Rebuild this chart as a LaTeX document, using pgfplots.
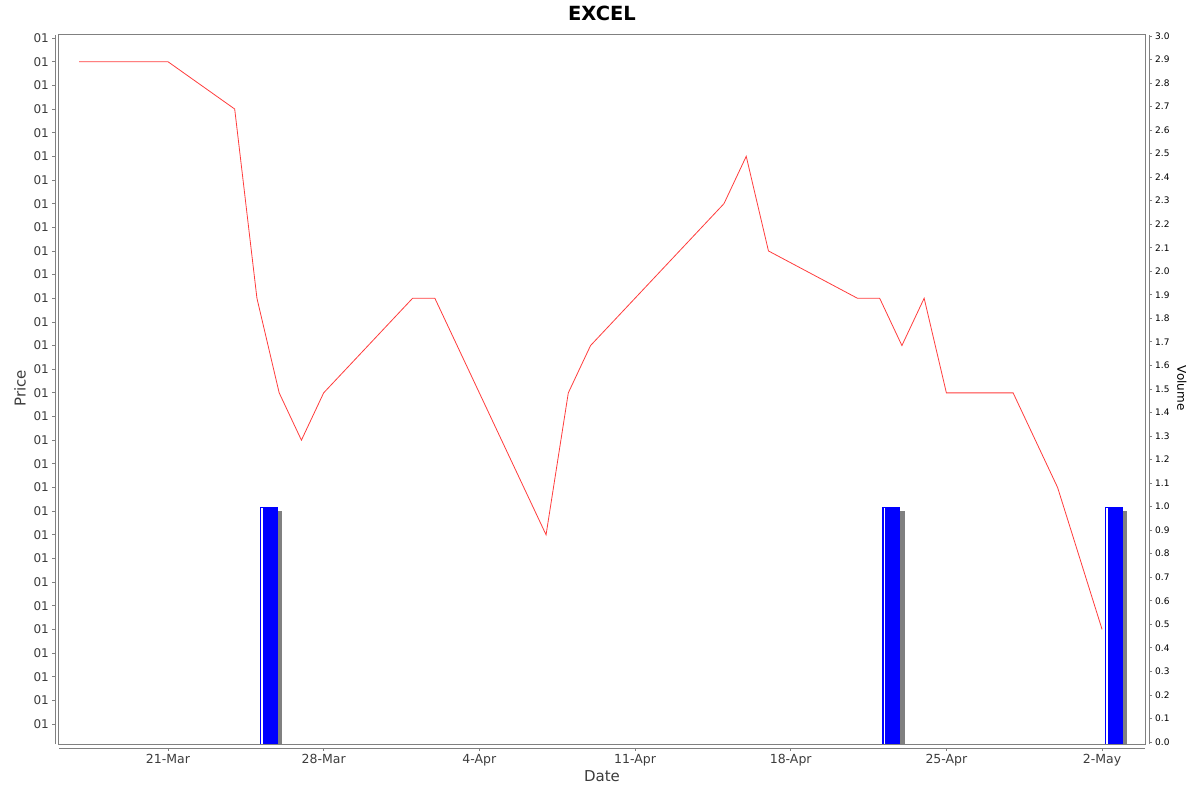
\documentclass[border=0pt]{standalone}
\usepackage{fontspec}
\setmainfont{DejaVu Sans}
\usepackage{pgfplots}
\pgfplotsset{compat=1.18}

\definecolor{framegray}{RGB}{128,128,128}
\definecolor{labgray}{RGB}{60,60,60}
\definecolor{shadowgray}{RGB}{128,128,128}
\definecolor{barblue}{RGB}{0,0,255}
\definecolor{linered}{RGB}{255,60,60}

\pgfplotsset{
  base/.style={scale only axis, width=1086bp, height=709bp, at={(0,0)}, anchor=south west,
    xmin=-4.9, xmax=43.93, clip=true},
  pricey/.style={ymin=-0.845, ymax=29.13},
  voly/.style={ymin=-0.0085, ymax=3.004},
}

\pgfplotstableread{
day price
-4 28
0 28
3 26
4 18
5 14
6 12
7 14
11 18
12 18
17 8
18 14
19 16
25 22
26 24
27 20
31 18
32 18
33 16
34 18
35 14
38 14
40 10
42 4
}\pricedata

\begin{document}
\begin{tikzpicture}
\path[use as bounding box] (-59bp,-48bp) rectangle (1141bp,744bp);

% volume bars
\begin{axis}[base, voly, hide axis]
\addplot[fill=shadowgray, draw=none] coordinates {(4.31,-0.05) (4.31,0.98) (5.13,0.98) (5.13,-0.05)} -- cycle;
\addplot[fill=shadowgray, draw=none] coordinates {(32.31,-0.05) (32.31,0.98) (33.13,0.98) (33.13,-0.05)} -- cycle;
\addplot[fill=shadowgray, draw=none] coordinates {(42.31,-0.05) (42.31,0.98) (43.13,0.98) (43.13,-0.05)} -- cycle;
\addplot[fill=barblue, draw=none] coordinates {(4.12,-0.05) (4.12,1.0) (4.93,1.0) (4.93,-0.05)} -- cycle;
\addplot[fill=barblue, draw=none] coordinates {(32.12,-0.05) (32.12,1.0) (32.93,1.0) (32.93,-0.05)} -- cycle;
\addplot[fill=barblue, draw=none] coordinates {(42.12,-0.05) (42.12,1.0) (42.93,1.0) (42.93,-0.05)} -- cycle;
\addplot[white, line width=1.6bp] coordinates {(4.22,-0.05) (4.22,0.993)};
\addplot[white, line width=1.6bp] coordinates {(32.22,-0.05) (32.22,0.993)};
\addplot[white, line width=1.6bp] coordinates {(42.22,-0.05) (42.22,0.993)};
\end{axis}

% price line and frame
\begin{axis}[base, pricey, ticks=none, clip mode=individual, axis line style={framegray, line width=1bp}]
\addplot[linered, line width=0.8bp, mark=none] table[x=day, y=price] {\pricedata};
\node[font=\bfseries\fontsize{19.5bp}{19.5bp}\selectfont, text=black] at (axis description cs:0.5,1.031) {EXCEL};
\node[font=\fontsize{15bp}{15bp}\selectfont, text=labgray, rotate=90] at (axis description cs:-0.0359,0.502) {Price};
\node[font=\fontsize{15bp}{15bp}\selectfont, text=labgray] at (axis description cs:0.5,-0.0451) {Date};
\node[font=\fontsize{12bp}{12bp}\selectfont, text=black, rotate=-90] at (axis description cs:1.034,0.502) {Volume};
\end{axis}

% left axis (offset)
\begin{axis}[base, pricey, xshift=-4bp, axis y line=left, axis x line=none,
  axis line style={-, framegray, line width=1bp},
  ytick={0,...,29}, yticklabel={01},
  tick align=outside, major tick length=3bp, tick style={framegray, line width=0.8bp},
  yticklabel style={font=\fontsize{12bp}{12bp}\selectfont, text=labgray, inner sep=0pt, xshift=-3bp}]
\end{axis}

% bottom axis (offset)
\begin{axis}[base, pricey, yshift=-4bp, axis x line=bottom, axis y line=none,
  axis line style={-, framegray, line width=1bp},
  xtick={0,7,14,21,28,35,42},
  xticklabels={21-Mar,28-Mar,4-Apr,11-Apr,18-Apr,25-Apr,2-May},
  tick align=outside, major tick length=3bp, tick style={framegray, line width=0.8bp},
  xticklabel style={font=\fontsize{12.5bp}{12.5bp}\selectfont, text=labgray, inner sep=0pt, yshift=-3bp}]
\end{axis}

% right axis (offset)
\begin{axis}[base, voly, xshift=4bp, axis y line=right, axis x line=none,
  axis line style={-, framegray, line width=1bp},
  ytick={0,0.1,0.2,0.3,0.4,0.5,0.6,0.7,0.8,0.9,1.0,1.1,1.2,1.3,1.4,1.5,1.6,1.7,1.8,1.9,2.0,2.1,2.2,2.3,2.4,2.5,2.6,2.7,2.8,2.9,3.0},
  tick align=outside, major tick length=3bp, tick style={framegray, line width=0.8bp},
  yticklabel style={font=\fontsize{9bp}{9bp}\selectfont, text=black, inner sep=0pt, xshift=3bp,
    /pgf/number format/.cd, fixed, fixed zerofill, precision=1, assume math mode=true}]
\end{axis}
\end{tikzpicture}
\end{document}
